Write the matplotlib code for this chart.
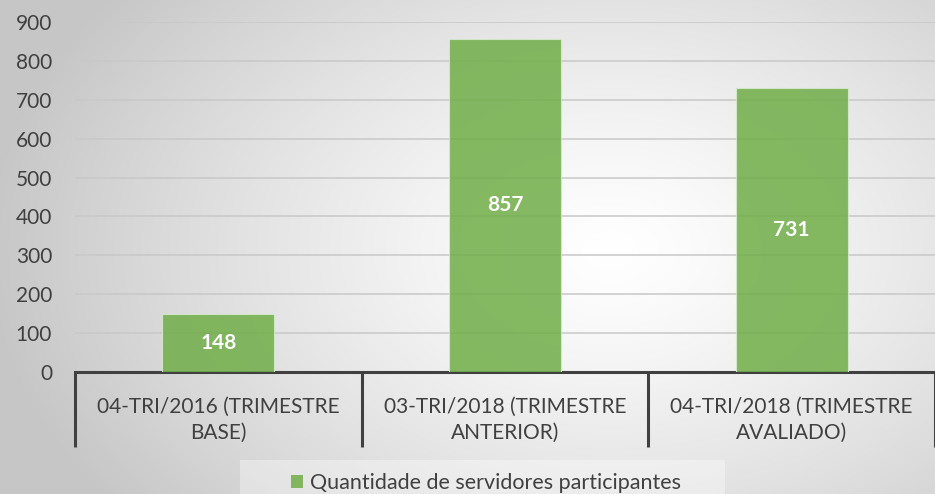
import numpy as np
import matplotlib.pyplot as plt
from matplotlib.patches import Patch, Rectangle

categories = ['04-TRI/2016 (TRIMESTRE\nBASE)',
              '03-TRI/2018 (TRIMESTRE\nANTERIOR)',
              '04-TRI/2018 (TRIMESTRE\nAVALIADO)']
values = [148, 857, 731]
series_name = 'Quantidade de servidores participantes'
yticks = [0, 100, 200, 300, 400, 500, 600, 700, 800, 900]

plt.rcParams['font.family'] = ['Lato', 'DejaVu Sans']
text_color = '#404040'

W, H = 935, 494
fig = plt.figure(figsize=(W / 100, H / 100), dpi=100)

# radial gradient background
bg = fig.add_axes([0, 0, 1, 1], zorder=-10)
yy, xx = np.mgrid[0:H, 0:W]
cx, cy = 610, 250
r = np.sqrt(((xx - cx) / 620.0) ** 2 + ((yy - cy) / 420.0) ** 2)
r = np.clip(r, 0, 1)
shade = 1.0 - 0.22 * r ** 1.3
img = np.dstack([shade, shade, shade])
bg.imshow(img, aspect='auto', extent=[0, W, H, 0])
bg.set_xlim(0, W)
bg.set_ylim(H, 0)
bg.set_axis_off()
# lighter band behind the legend
bg.add_patch(Rectangle((240, 460), 485, 40, facecolor='white', alpha=0.35,
                       edgecolor='none'))

ax = fig.add_axes([75 / W, 1 - 372 / H, 860 / W, 350 / H])
ax.patch.set_alpha(0)
x = np.arange(len(values))
bars = ax.bar(x, values, width=0.39, color='#70ad47', alpha=0.85,
              edgecolor='#d8ead0', linewidth=0.8, zorder=3)
for xi, v in zip(x, values):
    ax.text(xi, v / 2, str(v), ha='center', va='center', color='white',
            fontsize=15, fontweight='bold', zorder=4)

ax.set_xlim(-0.5, len(values) - 0.5)
ax.set_ylim(0, 900)
ax.set_yticks(yticks)
ax.yaxis.grid(True, color='#c8c8c8', linewidth=1.1, zorder=0)
ax.tick_params(axis='y', length=0, pad=16.5, labelsize=15, labelcolor=text_color)
for s in ['top', 'right', 'left']:
    ax.spines[s].set_visible(False)
ax.spines['bottom'].set_color(text_color)
ax.spines['bottom'].set_linewidth(2.2)

# category labels with separators
ax.set_xticks([])
for i, lab in enumerate(categories):
    ax.text(i, -0.137, lab, transform=ax.get_xaxis_transform(), ha='center',
            va='center', fontsize=15, color=text_color, linespacing=1.35)
for b in np.arange(-0.5, len(values) + 0.5, 1.0):
    ax.plot([b, b], [0, -0.215], transform=ax.get_xaxis_transform(),
            color=text_color, linewidth=2.2, clip_on=False, solid_capstyle='butt')

handles = [Patch(facecolor='#70ad47', alpha=0.85, label=series_name)]
leg = fig.legend(handles=handles, loc='center', bbox_to_anchor=(486 / W, 1 - 483 / H),
                 frameon=False, fontsize=15.5, handlelength=0.55, handleheight=0.55,
                 handletextpad=0.3, borderpad=0.2)
for t in leg.get_texts():
    t.set_color(text_color)

fig.savefig('out.png', dpi=100)
